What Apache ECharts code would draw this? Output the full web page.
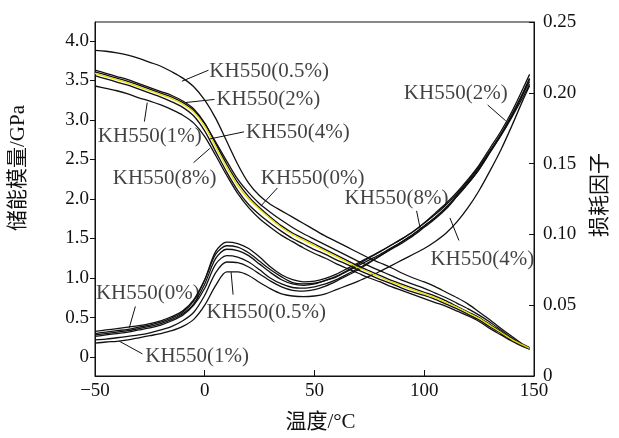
<!DOCTYPE html>
<html><head><meta charset="utf-8">
<script src="https://cdn.jsdelivr.net/npm/echarts@6/dist/echarts.min.js"></script>
<style>html,body{margin:0;padding:0;background:#fff}#c{width:619px;height:438px}</style>
</head><body><div id="c"></div><script>
// ---- temperatures (°C) ----
const temps = [-50,-45,-40,-35,-30,-25,-20,-15,-10,-5,0,5,10,15,20,25,30,35,40,45,50,55,60,65,70,75,80,85,90,95,100,105,110,115,120,125,130,135,140,145,148];

// ---- storage modulus (GPa), left axis ----
const storage05 = [3.88,3.87,3.85,3.82,3.78,3.73,3.68,3.61,3.53,3.42,3.25,3.02,2.73,2.44,2.20,2.04,1.93,1.85,1.77,1.69,1.61,1.53,1.46,1.39,1.32,1.25,1.19,1.13,1.06,1.00,0.95,0.89,0.82,0.75,0.67,0.57,0.47,0.36,0.26,0.16,0.12];
const storage0  = [3.61,3.57,3.53,3.49,3.44,3.39,3.34,3.29,3.22,3.12,2.95,2.72,2.48,2.25,2.08,1.94,1.83,1.73,1.64,1.56,1.49,1.42,1.35,1.28,1.21,1.15,1.09,1.03,0.97,0.92,0.87,0.81,0.75,0.68,0.61,0.53,0.44,0.34,0.24,0.15,0.11];
const storage2  = [3.63,3.59,3.55,3.51,3.46,3.41,3.36,3.31,3.24,3.14,2.96,2.70,2.44,2.21,2.03,1.89,1.77,1.66,1.57,1.50,1.43,1.36,1.29,1.22,1.15,1.09,1.03,0.97,0.92,0.87,0.82,0.77,0.71,0.64,0.57,0.50,0.41,0.32,0.22,0.15,0.11];
const storage4  = [3.59,3.55,3.51,3.47,3.42,3.37,3.32,3.27,3.20,3.10,2.92,2.66,2.40,2.17,2.00,1.87,1.75,1.64,1.55,1.48,1.41,1.34,1.27,1.20,1.13,1.07,1.01,0.95,0.90,0.85,0.80,0.75,0.69,0.63,0.56,0.49,0.40,0.31,0.22,0.15,0.11];
const storage8  = [3.56,3.52,3.48,3.44,3.39,3.34,3.29,3.23,3.16,3.05,2.86,2.60,2.34,2.11,1.93,1.80,1.69,1.59,1.50,1.43,1.36,1.30,1.23,1.17,1.10,1.04,0.98,0.93,0.87,0.82,0.78,0.73,0.67,0.61,0.54,0.47,0.38,0.30,0.21,0.14,0.10];
const storage1  = [3.43,3.40,3.37,3.33,3.28,3.24,3.19,3.13,3.06,2.96,2.79,2.55,2.30,2.07,1.89,1.75,1.64,1.54,1.46,1.38,1.31,1.25,1.18,1.12,1.06,1.00,0.95,0.89,0.84,0.79,0.74,0.69,0.64,0.58,0.52,0.45,0.36,0.28,0.20,0.13,0.10];

// ---- loss factor, right axis ----
const loss2  = [0.030,0.031,0.032,0.033,0.0345,0.036,0.038,0.041,0.045,0.053,0.068,0.088,0.0945,0.0935,0.090,0.084,0.077,0.0715,0.068,0.0665,0.067,0.069,0.072,0.076,0.080,0.084,0.088,0.0925,0.097,0.102,0.108,0.115,0.122,0.130,0.139,0.149,0.161,0.173,0.187,0.203,0.213];
const loss0  = [0.0315,0.0325,0.0335,0.0345,0.0355,0.037,0.039,0.042,0.046,0.054,0.068,0.086,0.092,0.091,0.087,0.081,0.075,0.070,0.066,0.065,0.0655,0.0675,0.070,0.074,0.078,0.082,0.086,0.0905,0.095,0.100,0.106,0.112,0.119,0.127,0.136,0.146,0.158,0.170,0.184,0.200,0.210];
const loss8  = [0.029,0.030,0.031,0.032,0.0335,0.035,0.037,0.040,0.044,0.051,0.065,0.083,0.0895,0.0885,0.085,0.079,0.073,0.068,0.065,0.064,0.065,0.0675,0.0705,0.0745,0.079,0.0835,0.088,0.0925,0.097,0.102,0.108,0.114,0.121,0.129,0.138,0.148,0.159,0.171,0.184,0.199,0.208];
const loss4  = [0.028,0.029,0.030,0.031,0.0325,0.034,0.036,0.039,0.043,0.050,0.062,0.079,0.085,0.084,0.0805,0.075,0.069,0.065,0.0625,0.062,0.063,0.065,0.068,0.072,0.076,0.0805,0.085,0.0895,0.094,0.099,0.105,0.111,0.118,0.127,0.136,0.146,0.158,0.170,0.183,0.197,0.206];
const loss1  = [0.0255,0.026,0.027,0.028,0.029,0.0305,0.0325,0.035,0.039,0.045,0.057,0.073,0.0805,0.080,0.077,0.072,0.067,0.063,0.0605,0.060,0.061,0.0635,0.067,0.071,0.075,0.080,0.085,0.090,0.095,0.100,0.106,0.112,0.119,0.128,0.137,0.147,0.159,0.171,0.185,0.200,0.210];
const loss05 = [0.0232,0.024,0.0245,0.0255,0.027,0.0285,0.030,0.032,0.035,0.040,0.050,0.064,0.0735,0.0735,0.071,0.066,0.0615,0.058,0.0565,0.056,0.0565,0.058,0.061,0.064,0.067,0.0705,0.074,0.078,0.082,0.086,0.090,0.095,0.101,0.109,0.119,0.131,0.145,0.160,0.177,0.195,0.205];

// ---- axis ticks ----
const leftTicks = [0,0.5,1.0,1.5,2.0,2.5,3.0,3.5,4.0];

// ---- annotations (temperature / left-axis units) ----
const annotTexts = ['KH550(0.5%)','KH550(2%)','KH550(1%)','KH550(4%)','KH550(8%)','KH550(0%)',
                    'KH550(0%)','KH550(1%)','KH550(0.5%)','KH550(8%)','KH550(4%)','KH550(2%)'];
const annotAt = [[2.1,3.61],[5.3,3.26],[-48.7,2.79],[18.8,2.84],[-41.9,2.26],[25.5,2.26],
                 [-49.6,0.81],[-27.1,0.01],[0.8,0.56],[63.7,2.01],[102.8,1.24],[90.7,3.34]];
const arrowFrom = [[-10.4,3.49],[-9.0,3.22],[-26.2,3.22],[2.3,2.76],[2.3,2.64],[25.5,1.91],
                   [-34.4,0.37],[-38.9,0.20],[12.0,1.075],[98.2,1.62],[111.7,1.76],[137.1,2.99]];
const arrowTo = [[1.7,3.63],[4.4,3.26],[-27.5,2.98],[17.9,2.85],[-5.1,2.46],[33.1,2.14],
                 [-31.6,0.64],[-28.4,0.04],[12.9,0.79],[96.5,1.85],[115.8,1.475],[128.9,3.19]];

const SERIF = "'Liberation Serif','Times New Roman','Noto Sans CJK SC',serif";
const chart = echarts.init(document.getElementById('c'), null, {renderer:'canvas'});

function mk(vals, color, axis, z) {
  return {type:'line', yAxisIndex:axis, data: temps.map((t,i)=>[t, vals[i]]),
    showSymbol:false, smooth:0.3, silent:true, z:z||2,
    lineStyle:{color:color, width:1.3}};
}
const series = [
  mk(storage05, '#111', 0),
  mk(storage2, '#111', 0),
  mk(storage0, '#111', 0),
  mk(storage8, '#111', 0),
  mk(storage1, '#111', 0),
  mk(storage4, '#e6dc00', 0, 3),
  mk(loss0, '#111', 1),
  mk(loss2, '#111', 1),
  mk(loss8, '#111', 1),
  mk(loss4, '#111', 1),
  mk(loss1, '#111', 1),
  mk(loss05, '#111', 1),
  {type:'scatter', yAxisIndex:0, symbolSize:0, silent:true, z:5,
   data: annotTexts.map((s,i)=>({value:annotAt[i], name:s})),
   label:{show:true, position:[0,0], align:'left', verticalAlign:'middle',
     formatter:p=>p.name, fontFamily:SERIF, fontSize:21, color:'#111'},
   markLine:{silent:true, symbol:['none','arrow'], symbolSize:[0,9], animation:false,
     lineStyle:{color:'#111', width:1, type:'solid'}, label:{show:false},
     data: arrowFrom.map((a,i)=>[{coord:a},{coord:arrowTo[i]}])}
  }
];

const axisText = {fontFamily:SERIF, fontSize:19, color:'#111'};
chart.setOption({
  animation:false,
  backgroundColor:'#fff',
  grid:{left:92, right:82, top:22, bottom:58, show:true, borderColor:'#111', borderWidth:1},
  xAxis:{type:'value', min:-50, max:150, interval:50,
    name:'温度/°C', nameLocation:'middle', nameGap:36,
    nameTextStyle:{fontFamily:SERIF, fontSize:21, color:'#111', padding:[0,0,0,12]},
    axisLine:{onZero:false, lineStyle:{color:'#111'}},
    axisTick:{inside:true, length:6, lineStyle:{color:'#111'}},
    axisLabel:{...axisText, margin:6, formatter:v=> v<0 ? '\u2212'+Math.abs(v) : String(v)},
    splitLine:{show:false}},
  yAxis:[
    {type:'value', min:-0.24, max:4.24, position:'left',
      name:'储能模量/GPa', nameLocation:'middle', nameGap:66, nameRotate:90,
      nameTextStyle:{fontFamily:SERIF, fontSize:21, color:'#111', padding:[0,0,0,62]},
      axisLine:{show:true, onZero:false, lineStyle:{color:'#111'}},
      axisTick:{show:true, inside:false, length:5, customValues:leftTicks, lineStyle:{color:'#111'}},
      axisLabel:{...axisText, margin:6, customValues:leftTicks, formatter:v=> v===0 ? '0' : v.toFixed(1)},
      splitLine:{show:false}},
    {type:'value', min:0, max:0.25, interval:0.05, position:'right',
      name:'损耗因子', nameLocation:'middle', nameGap:56, nameRotate:90,
      nameTextStyle:{fontFamily:SERIF, fontSize:21, color:'#111', padding:[0,0,0,8]},
      axisLine:{show:true, onZero:false, lineStyle:{color:'#111'}},
      axisTick:{show:true, inside:true, length:5, lineStyle:{color:'#111'}},
      axisLabel:{...axisText, margin:9, formatter:v=> v===0 ? '0' : v.toFixed(2)},
      splitLine:{show:false}}
  ],
  series: series
});
</script></body></html>
